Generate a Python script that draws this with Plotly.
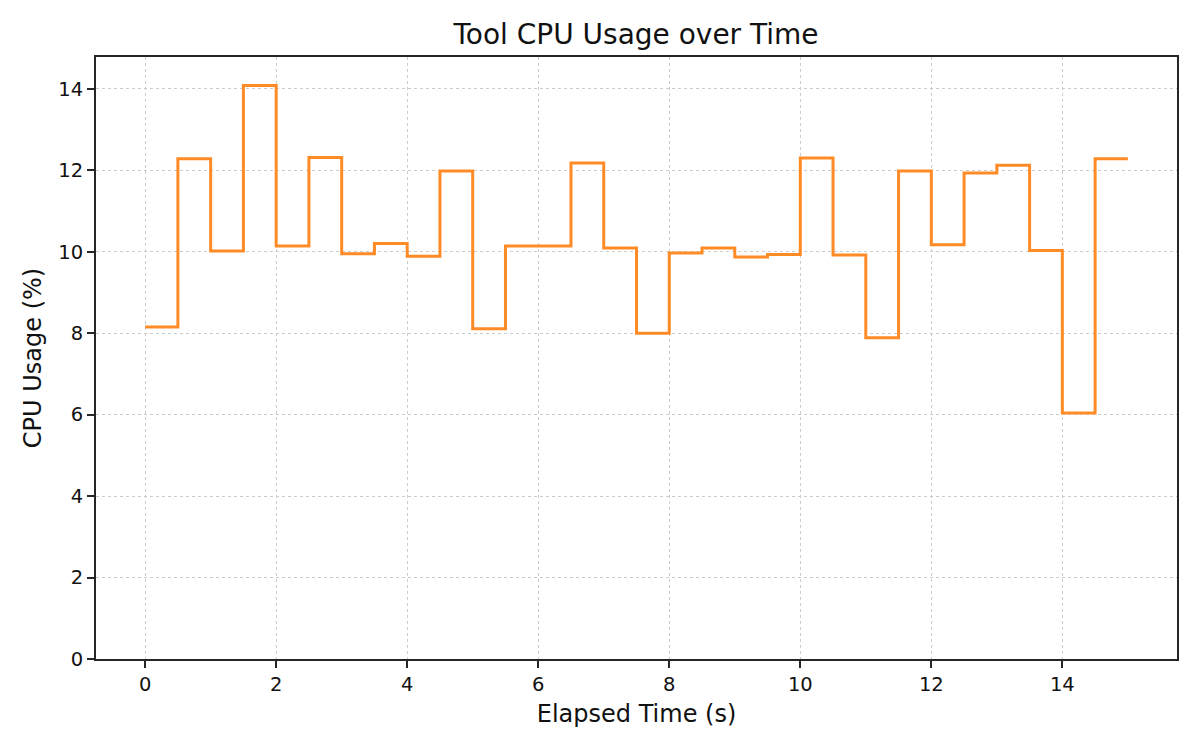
import plotly.graph_objects as go

elapsed_s = [0.0, 0.5, 1.0, 1.5, 2.0, 2.5, 3.0, 3.5, 4.0, 4.5, 5.0, 5.5, 6.0, 6.5, 7.0, 7.5,
             8.0, 8.5, 9.0, 9.5, 10.0, 10.5, 11.0, 11.5, 12.0, 12.5, 13.0, 13.5, 14.0, 14.5, 15.0]
cpu_pct = [8.15, 12.28, 10.02, 14.08, 10.14, 12.31, 9.95, 10.20, 9.89, 11.98, 8.11, 10.14, 10.14,
           12.18, 10.09, 8.00, 9.97, 10.09, 9.87, 9.93, 12.30, 9.92, 7.89, 11.98, 10.17, 11.93,
           12.12, 10.03, 6.04, 12.28, 12.28]
x_ticks = [0, 2, 4, 6, 8, 10, 12, 14]
y_ticks = [0, 2, 4, 6, 8, 10, 12, 14]

fig = go.Figure()
fig.add_trace(go.Scatter(
    x=elapsed_s, y=cpu_pct, mode="lines", line_shape="hv",
    line=dict(color="#ff8b26", width=3), showlegend=False,
))

axis_common = dict(
    showline=True, linecolor="#262626", linewidth=1.8, mirror=True,
    ticks="outside", ticklen=7, tickwidth=1.6, tickcolor="#262626",
    showgrid=True, gridcolor="#cccccc", griddash="dot", gridwidth=1.2,
    zeroline=False, tickfont=dict(size=19.5, color="#111111"),
)

fig.update_layout(
    width=1200, height=750,
    paper_bgcolor="white", plot_bgcolor="white",
    font=dict(family="DejaVu Sans", color="#111111"),
    margin=dict(l=88, r=31, t=49, b=99),
    title=dict(text="Tool CPU Usage over Time", x=(636 - 8) / 1200, xanchor="center",
               y=1 - (34 - 8) / 750, yanchor="middle", font=dict(size=28, color="#111111")),
    xaxis=dict(range=[-0.75, 15.75], tickvals=x_ticks,
               title=dict(text="Elapsed Time (s)", font=dict(size=24), standoff=10),
               **axis_common),
    yaxis=dict(range=[0, 14.78], tickvals=y_ticks,
               title=dict(text="CPU Usage (%)", font=dict(size=24), standoff=10),
               **axis_common),
)

fig.write_html("out.html")
